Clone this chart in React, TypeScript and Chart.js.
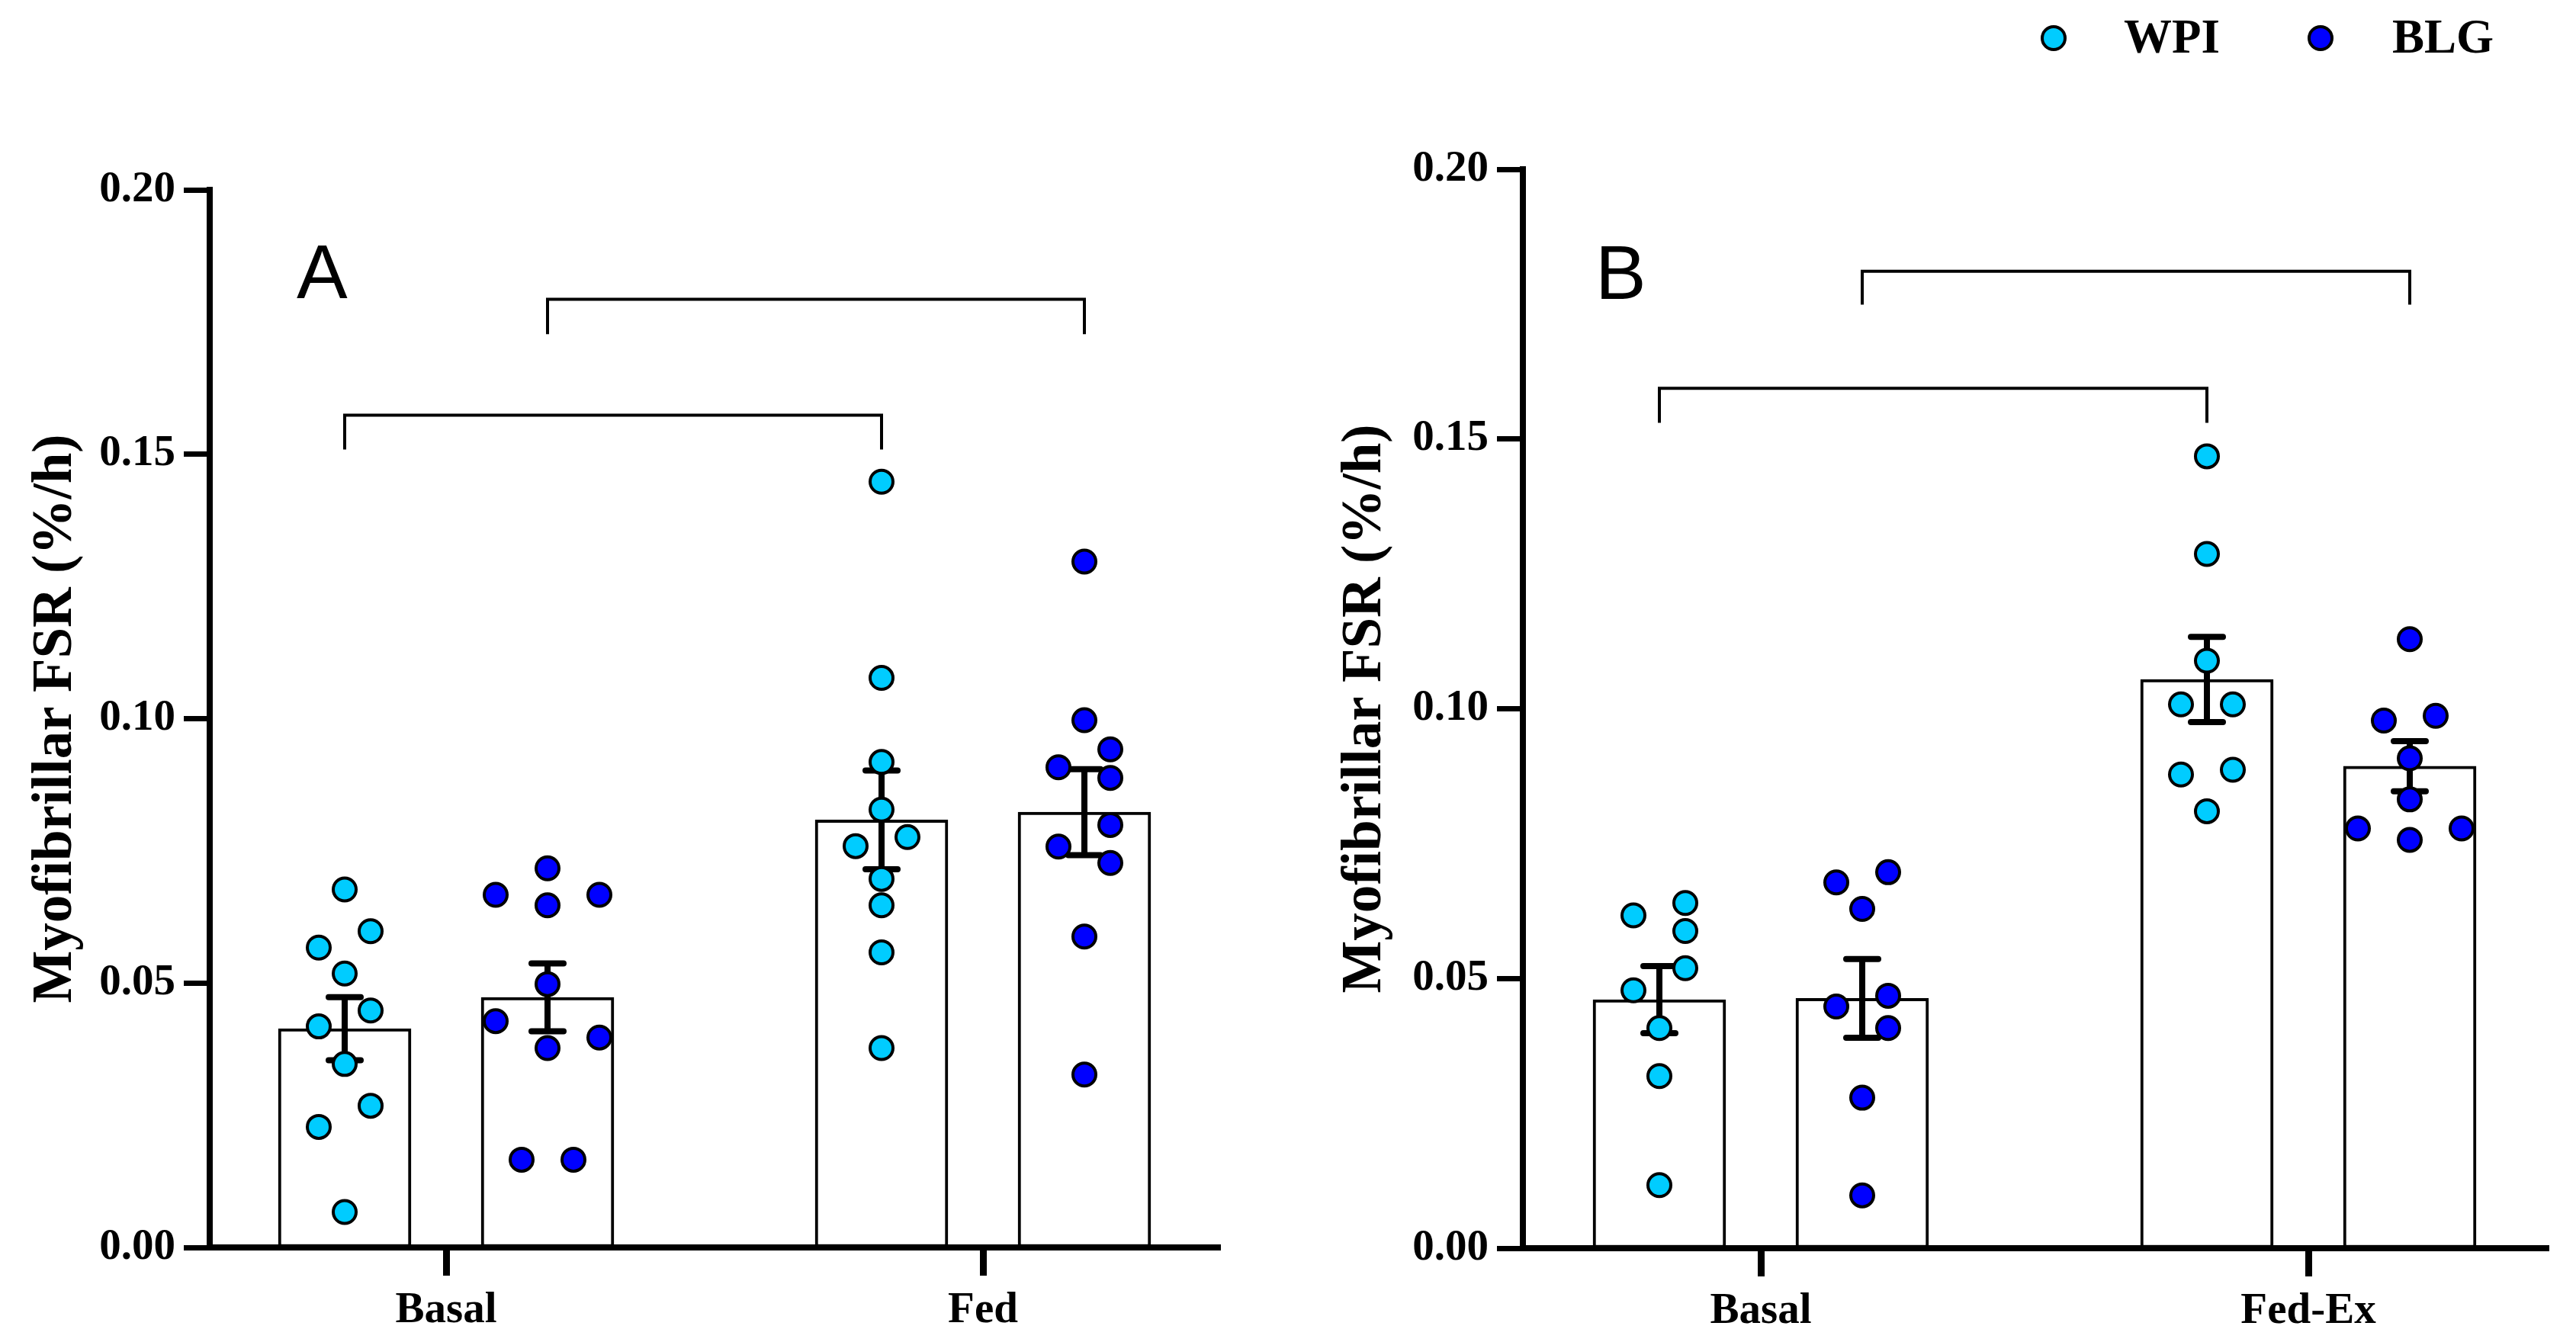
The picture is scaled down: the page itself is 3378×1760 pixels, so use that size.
import { useEffect, useRef } from "react"
import { Chart, registerables, type ChartConfiguration, type Plugin } from "chart.js"

Chart.register(...registerables)

const WPI_COLOR = "#00CCFF"
const BLG_COLOR = "#0000FF"
const SERIF = "'Liberation Serif', 'Times New Roman', serif"
const SANS = "'Liberation Sans', Arial, sans-serif"

// ---- data (FSR, %/h) ----
const yTicks = [0, 0.05, 0.1, 0.15, 0.2]

const categoriesA = ["Basal", "Fed"]
const wpiBasalA = [0.0677, 0.0598, 0.0567, 0.0518, 0.0448, 0.0418, 0.0347, 0.0268, 0.0228, 0.0067]
const wpiFedA = [0.1448, 0.1077, 0.0918, 0.0828, 0.0776, 0.0759, 0.0697, 0.0647, 0.0558, 0.0377]
const blgBasalA = [0.0717, 0.0667, 0.0667, 0.0647, 0.0498, 0.0428, 0.0397, 0.0377, 0.0166, 0.0166]
const blgFedA = [0.1297, 0.0997, 0.0942, 0.0908, 0.0888, 0.0799, 0.0758, 0.0727, 0.0588, 0.0327]
// significance brackets: [bar level, end of the legs]
const bracketWpiA = [0.1574, 0.1509]
const bracketBlgA = [0.1793, 0.1727]

const categoriesB = ["Basal", "Fed-Ex"]
const wpiBasalB = [0.064, 0.0617, 0.0588, 0.0519, 0.0478, 0.0408, 0.0319, 0.0117]
const wpiFedB = [0.1468, 0.1287, 0.1089, 0.1008, 0.1008, 0.0887, 0.0878, 0.081]
const blgBasalB = [0.0697, 0.0678, 0.0629, 0.0468, 0.0448, 0.0408, 0.0279, 0.0098]
const blgFedB = [0.1129, 0.0987, 0.0978, 0.0908, 0.0832, 0.0778, 0.0778, 0.0757]
const bracketWpiB = [0.1594, 0.153]
const bracketBlgB = [0.1811, 0.1749]

// ---- helpers ----
const mean = (v: number[]) => v.reduce((a, b) => a + b, 0) / v.length
const sem = (v: number[]) => {
  const m = mean(v)
  const sd = Math.sqrt(v.reduce((a, b) => a + (b - m) ** 2, 0) / (v.length - 1))
  return sd / Math.sqrt(v.length)
}

// simple column scatter: close values are spread sideways in slots
function swarm(values: number[], join = 0.0044, clash = 0.00515): number[] {
  const order = values.map((_, i) => i).sort((a, b) => values[b] - values[a])
  const slots = values.map(() => 0)
  const groups: number[][] = []
  for (const i of order) {
    const g = groups[groups.length - 1]
    if (g && values[g[g.length - 1]] - values[i] < join) g.push(i)
    else groups.push([i])
  }
  const place = (g: number[], cols: number[]) => {
    const used: { c: number; v: number }[] = []
    const res: number[] = []
    for (const i of g) {
      const c = cols.find((k) => used.every((u) => u.c !== k || Math.abs(u.v - values[i]) >= clash))
      if (c === undefined) return null
      used.push({ c, v: values[i] })
      res.push(c)
    }
    return res
  }
  for (const g of groups) {
    if (g.length < 2) continue
    const res = place(g, [1, -1]) ?? place(g, [-2, 2, 0]) ?? place(g, [-3, -1, 1, 3])
    g.forEach((i, k) => (slots[i] = res ? res[k] : 0))
  }
  return slots
}

type Layout = {
  canvasLeft: number
  canvasWidth: number
  axisX: number
  plotRight: number
  plotTop: number
  plotBottom: number
  tick0: number
  tick1: number
  titleX: number
  letterX: number
  letterY: number
}

type PanelSpec = {
  letter: string
  categories: string[]
  wpi: number[][]
  blg: number[][]
  bracketWpi: number[]
  bracketBlg: number[]
  legend: boolean
  layout: Layout
}

const PAGE_H = 1760
const BAR_OFFSET = 133
const BAR_WIDTH = 174
const SLOT = 34

const errorBars: Plugin = {
  id: "errorBars",
  afterDatasetDraw(chart, args) {
    const ds: any = chart.data.datasets[args.index]
    if (!ds.sem) return
    const { ctx } = chart
    const y = chart.scales.y
    ctx.save()
    ctx.strokeStyle = "#000"
    ctx.lineWidth = 8
    ctx.lineCap = "round"
    args.meta.data.forEach((bar: any, i: number) => {
      const m = ds.data[i].y
      const s = ds.sem[i]
      const top = y.getPixelForValue(m + s)
      const bot = y.getPixelForValue(m - s)
      ctx.beginPath()
      ctx.moveTo(bar.x, top)
      ctx.lineTo(bar.x, bot)
      ctx.moveTo(bar.x - 21, top)
      ctx.lineTo(bar.x + 21, top)
      ctx.moveTo(bar.x - 21, bot)
      ctx.lineTo(bar.x + 21, bot)
      ctx.stroke()
    })
    ctx.restore()
  },
}

const overlay: Plugin = {
  id: "overlay",
  afterDraw(chart, _args, opts: any) {
    const { ctx } = chart
    ctx.save()
    ctx.fillStyle = "#000"
    ctx.textBaseline = "alphabetic"
    ctx.textAlign = "left"
    ctx.font = `100px ${SANS}`
    ctx.fillText(opts.letter, opts.letterX, opts.letterY)
    if (opts.legend) {
      const items = [
        { label: "WPI", color: WPI_COLOR, cx: 1003, tx: 1095 },
        { label: "BLG", color: BLG_COLOR, cx: 1353, tx: 1447 },
      ]
      for (const it of items) {
        ctx.beginPath()
        ctx.arc(it.cx, 50, 15, 0, Math.PI * 2)
        ctx.fillStyle = it.color
        ctx.fill()
        ctx.lineWidth = 4
        ctx.strokeStyle = "#000"
        ctx.stroke()
        ctx.fillStyle = "#000"
        ctx.font = `bold 63px ${SERIF}`
        ctx.fillText(it.label, it.tx, 69)
      }
    }
    ctx.restore()
  },
}

function Panel({ spec }: { spec: PanelSpec }) {
  const ref = useRef<HTMLCanvasElement>(null)
  const L = spec.layout

  useEffect(() => {
    if (!ref.current) return
    const unit = L.tick1 - L.tick0
    const xMin = -(L.tick0 - L.axisX) / unit
    const xMax = 1 + (L.plotRight - L.tick1) / unit
    const off = BAR_OFFSET / unit

    const groups = [
      { name: "WPI", color: WPI_COLOR, series: spec.wpi, side: -1, bracket: spec.bracketWpi },
      { name: "BLG", color: BLG_COLOR, series: spec.blg, side: 1, bracket: spec.bracketBlg },
    ]

    const datasets: any[] = []
    for (const g of groups) {
      datasets.push({
        type: "bar",
        label: g.name + " mean",
        data: g.series.map((v, i) => ({ x: i + g.side * off, y: mean(v) })),
        sem: g.series.map(sem),
        backgroundColor: "#fff",
        borderColor: "#000",
        borderWidth: 4,
        borderSkipped: false,
        barThickness: BAR_WIDTH,
        grouped: false,
        order: 3,
      })
      const pts: { x: number; y: number }[] = []
      g.series.forEach((v, i) => {
        const slots = swarm(v)
        v.forEach((val, k) => pts.push({ x: i + g.side * off + (slots[k] * SLOT) / unit, y: val }))
      })
      datasets.push({
        type: "scatter",
        label: g.name,
        data: pts,
        pointRadius: 15,
        pointBorderWidth: 4,
        pointBackgroundColor: g.color,
        pointBorderColor: "#000",
        order: 1,
      })
      const a = 0 + g.side * off
      const b = 1 + g.side * off
      const [lvl, leg] = g.bracket
      datasets.push({
        type: "line",
        label: g.name + " bracket",
        data: [
          { x: a, y: leg },
          { x: a, y: lvl },
          { x: b, y: lvl },
          { x: b, y: leg },
        ],
        borderColor: "#000",
        borderWidth: 4,
        pointRadius: 0,
        fill: false,
        tension: 0,
        order: 2,
      })
    }

    const titleFont = 73
    const config: ChartConfiguration = {
      type: "bar",
      data: { datasets },
      options: {
        responsive: false,
        animation: false,
        devicePixelRatio: 1,
        events: [],
        layout: {
          padding: {
            left: 0,
            right: L.canvasWidth - (L.plotRight - L.canvasLeft),
            top: L.plotTop,
            bottom: 0,
          },
        },
        scales: {
          x: {
            type: "linear",
            min: xMin,
            max: xMax,
            offset: false,
            afterBuildTicks: (s: any) => {
              s.ticks = spec.categories.map((_, i) => ({ value: i }))
            },
            afterFit: (s: any) => {
              s.height = PAGE_H - L.plotBottom
            },
            ticks: {
              callback: (_v: any, i: number) => spec.categories[i],
              font: { family: SERIF, size: 57, weight: "bold" },
              color: "#000",
              padding: 12,
              maxRotation: 0,
              autoSkip: false,
            },
            grid: {
              drawOnChartArea: false,
              drawTicks: true,
              tickLength: 37,
              tickWidth: 9,
              tickColor: "#000",
              offset: false,
            },
            border: { display: true, color: "#000", width: 8 },
          },
          y: {
            type: "linear",
            min: 0,
            max: 0.2,
            afterBuildTicks: (s: any) => {
              s.ticks = yTicks.map((value) => ({ value }))
            },
            afterFit: (s: any) => {
              s.width = L.axisX - L.canvasLeft
            },
            ticks: {
              callback: (v: any) => Number(v).toFixed(2),
              font: { family: SERIF, size: 57, weight: "bold" },
              color: "#000",
              padding: 11,
            },
            grid: {
              drawOnChartArea: false,
              tickLength: 34,
              tickWidth: 7,
              tickColor: "#000",
            },
            border: { display: true, color: "#000", width: 8 },
            title: {
              display: true,
              text: "Myofibrillar FSR (%/h)",
              color: "#000",
              font: { family: SERIF, size: titleFont, weight: "bold", lineHeight: 1.2 },
              padding: { top: L.titleX - L.canvasLeft - (titleFont * 1.2) / 2, bottom: 0 },
            },
          },
        },
        plugins: {
          legend: { display: false },
          tooltip: { enabled: false },
          overlay: {
            letter: spec.letter,
            letterX: L.letterX - L.canvasLeft,
            letterY: L.letterY,
            legend: spec.legend,
          },
        } as any,
      },
      plugins: [errorBars, overlay],
    }

    const chart = new Chart(ref.current, config)
    return () => chart.destroy()
  }, [spec])

  return (
    <canvas
      ref={ref}
      width={L.canvasWidth}
      height={PAGE_H}
      style={{ position: "absolute", left: L.canvasLeft, top: 0, width: L.canvasWidth, height: PAGE_H }}
    />
  )
}

const panelA: PanelSpec = {
  letter: "A",
  categories: categoriesA,
  wpi: [wpiBasalA, wpiFedA],
  blg: [blgBasalA, blgFedA],
  bracketWpi: bracketWpiA,
  bracketBlg: bracketBlgA,
  legend: false,
  layout: {
    canvasLeft: 0,
    canvasWidth: 1690,
    axisX: 275,
    plotRight: 1600,
    plotTop: 249,
    plotBottom: 1636,
    tick0: 585,
    tick1: 1289,
    titleX: 74,
    letterX: 389,
    letterY: 391,
  },
}

const panelB: PanelSpec = {
  letter: "B",
  categories: categoriesB,
  wpi: [wpiBasalB, wpiFedB],
  blg: [blgBasalB, blgFedB],
  bracketWpi: bracketWpiB,
  bracketBlg: bracketBlgB,
  legend: true,
  layout: {
    canvasLeft: 1690,
    canvasWidth: 1688,
    axisX: 1997,
    plotRight: 3342,
    plotTop: 222,
    plotBottom: 1637,
    tick0: 2309,
    tick1: 3027,
    titleX: 1791,
    letterX: 2092,
    letterY: 392,
  },
}

export default function App() {
  return (
    <div style={{ position: "fixed", left: 0, top: 0, width: 3378, height: PAGE_H, background: "#fff" }}>
      <Panel spec={panelA} />
      <Panel spec={panelB} />
    </div>
  )
}
